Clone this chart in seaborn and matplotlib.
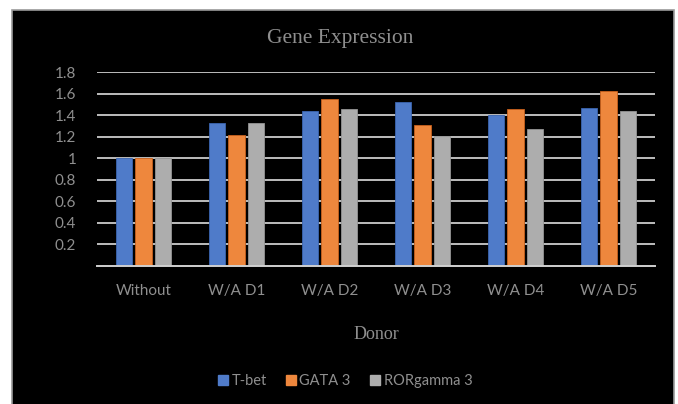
import matplotlib
matplotlib.use("Agg")
import matplotlib.pyplot as plt
import seaborn as sns
import pandas as pd
from matplotlib.patches import Rectangle

categories = ["Without", "W/A D1", "W/A D2", "W/A D3", "W/A D4", "W/A D5"]
series_names = ["T-bet", "GATA 3", "RORgamma 3"]
tbet = [1.00, 1.33, 1.44, 1.52, 1.40, 1.47]
gata3 = [1.00, 1.22, 1.55, 1.31, 1.46, 1.62]
rorg3 = [1.00, 1.33, 1.46, 1.21, 1.27, 1.44]
yticks = [0.2, 0.4, 0.6, 0.8, 1.0, 1.2, 1.4, 1.6, 1.8]
ytick_labels = ["0.2", "0.4", "0.6", "0.8", "1", "1.2", "1.4", "1.6", "1.8"]

rows = []
for name, vals in zip(series_names, [tbet, gata3, rorg3]):
    for c, v in zip(categories, vals):
        rows.append({"Donor": c, "Gene": name, "Value": v})
df = pd.DataFrame(rows)

colors = ["#4F7BC9", "#EE873D", "#ADADAD"]
edge_colors = ["#3b65b0", "#c8601c", "#959595"]
text_col = "#8f8f8f"

sns.set_theme(style="white")
plt.rcParams["font.family"] = ["Lato", "DejaVu Sans"]

W, H = 678, 404
fig = plt.figure(figsize=(W / 100, H / 100), dpi=100, facecolor="white")
bg = Rectangle((12 / W, -0.05), (674 - 12) / W, 1.05 - 10 / H,
               transform=fig.transFigure, facecolor="black",
               edgecolor="#9a9a9a", linewidth=1.2, zorder=-10)
fig.patches.append(bg)

ax = fig.add_axes([97 / W, 1 - 266 / H, (655 - 97) / W, (266 - 72) / H])
ax.set_facecolor("none")
ax.set_zorder(5)

sns.barplot(data=df, x="Donor", y="Value", hue="Gene", order=categories,
            hue_order=series_names, palette=colors, saturation=1,
            width=0.63, gap=0.17, ax=ax, zorder=3, legend=True)
for cont, ec in zip(ax.containers, edge_colors):
    for b in cont:
        b.set_edgecolor(ec)
        b.set_linewidth(0.6)

ax.set_ylim(0, 1.8)
ax.set_xlim(-0.5, len(categories) - 0.5)
ax.set_yticks(yticks)
ax.set_yticklabels(ytick_labels)
ax.yaxis.grid(True, color="#dcdcdc", linewidth=1.2, zorder=1)
ax.set_axisbelow(True)
for s in ["top", "right", "left"]:
    ax.spines[s].set_visible(False)
ax.spines["bottom"].set_color("#d0d0d0")
ax.spines["bottom"].set_linewidth(1.4)
ax.spines["bottom"].set_zorder(4)
ax.tick_params(axis="y", length=0, pad=15, labelsize=11, labelcolor=text_col)
ax.tick_params(axis="x", length=0, pad=13, labelsize=11, labelcolor=text_col)
ax.set_ylabel("")
ax.set_xlabel("Donor", fontsize=13, color=text_col, family="Liberation Serif",
              labelpad=20)

fig.text(340 / W, 1 - 38 / H, "Gene Expression", ha="center", va="center",
         fontsize=15.5, color=text_col, family="Liberation Serif", zorder=6)

handles, labels = ax.get_legend_handles_labels()
ax.get_legend().remove()
for h, c in zip(handles, colors):
    h.set_edgecolor(c)
leg = fig.legend(handles, labels, loc="center", bbox_to_anchor=(345 / W, 1 - 381 / H),
                 ncol=3, frameon=False, fontsize=10.5, labelcolor=text_col,
                 handlelength=0.7, handleheight=0.7, handletextpad=0.25,
                 columnspacing=1.3)
leg.set_zorder(6)

fig.savefig("out.png", dpi=100, facecolor="white")
